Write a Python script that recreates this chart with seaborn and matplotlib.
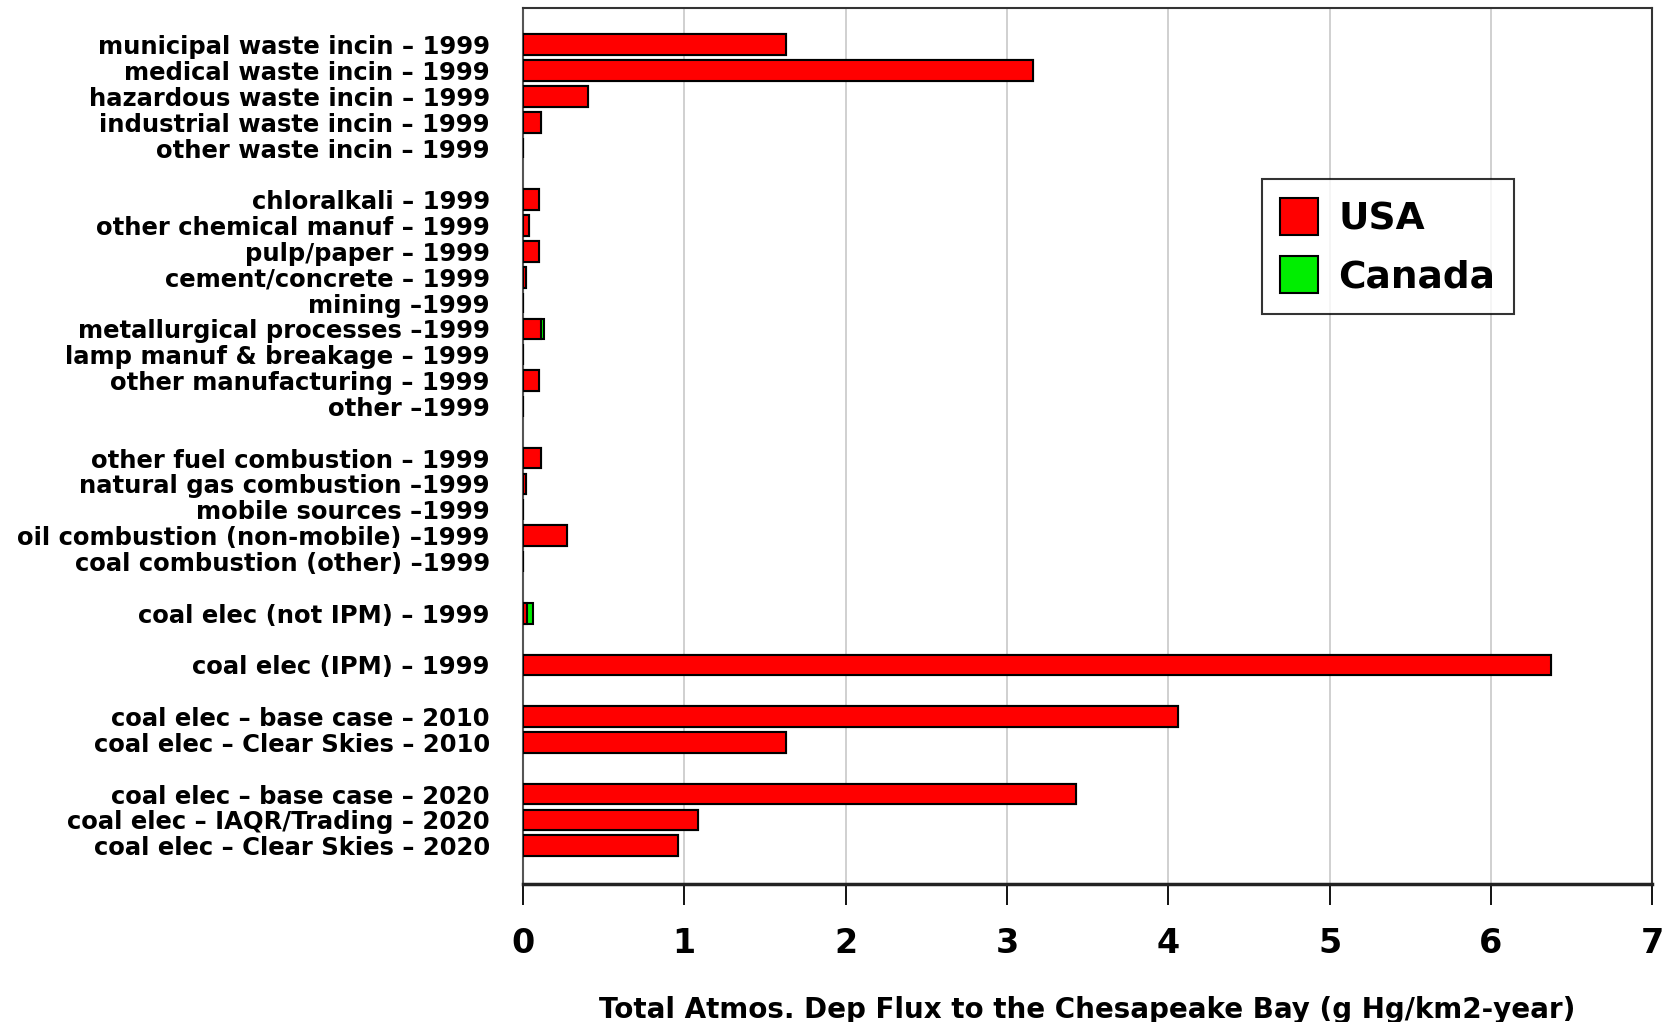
import matplotlib
matplotlib.use("Agg")
import matplotlib.pyplot as plt
import seaborn as sns
import pandas as pd
from matplotlib.patches import Patch

# ---- data ----
categories = [
    "municipal waste incin – 1999",
    "medical waste incin – 1999",
    "hazardous waste incin – 1999",
    "industrial waste incin – 1999",
    "other waste incin – 1999",
    "",
    "chloralkali – 1999",
    "other chemical manuf – 1999",
    "pulp/paper – 1999",
    "cement/concrete – 1999",
    "mining –1999",
    "metallurgical processes –1999",
    "lamp manuf & breakage – 1999",
    "other manufacturing – 1999",
    "other –1999",
    "",
    "other fuel combustion – 1999",
    "natural gas combustion –1999",
    "mobile sources –1999",
    "oil combustion (non-mobile) –1999",
    "coal combustion (other) –1999",
    "",
    "coal elec (not IPM) – 1999",
    "",
    "coal elec (IPM) – 1999",
    "",
    "coal elec – base case – 2010",
    "coal elec – Clear Skies – 2010",
    "",
    "coal elec – base case – 2020",
    "coal elec – IAQR/Trading – 2020",
    "coal elec – Clear Skies – 2020",
]
usa = [1.63, 3.16, 0.40, 0.11, 0.0, None,
       0.10, 0.04, 0.10, 0.02, 0.0, 0.11, 0.0, 0.10, 0.0, None,
       0.11, 0.02, 0.0, 0.27, 0.0, None,
       0.025, None,
       6.37, None,
       4.06, 1.63, None,
       3.43, 1.085, 0.96]
canada = [0.0, 0.0, 0.0, 0.0, 0.0, None,
          0.0, 0.0, 0.0, 0.0, 0.0, 0.02, 0.0, 0.0, 0.0, None,
          0.0, 0.0, 0.0, 0.0, 0.0, None,
          0.035, None,
          0.0, None,
          0.0, 0.0, None,
          0.0, 0.0, 0.0]
series_names = ["USA", "Canada"]
xticks = [0, 1, 2, 3, 4, 5, 6, 7]
xlabel = "Total Atmos. Dep Flux to the Chesapeake Bay (g Hg/km2-year)"

# ---- build frame ----
keys = [f"k{i}" for i in range(len(categories))]
rows = []
for k, u, c in zip(keys, usa, canada):
    if u is None:
        continue
    rows.append({"key": k, "usa": u, "total": u + c})
df = pd.DataFrame(rows)

sns.set_style("white")
plt.rcParams["font.family"] = ["DejaVu Sans"]
plt.rcParams["text.color"] = "black"
plt.rcParams["axes.labelcolor"] = "black"
plt.rcParams["xtick.color"] = "black"
plt.rcParams["ytick.color"] = "black"

fig = plt.figure(figsize=(16.73, 10.22), dpi=100)
ax = fig.add_axes([0.3126, 0.135, 0.675, 0.8567])

red = "#ff0000"
green = "#00ee00"

sns.barplot(data=df, y="key", x="total", order=keys, orient="h",
            color=green, saturation=1, width=0.8, edgecolor="black",
            linewidth=1.5, ax=ax, errorbar=None, zorder=3)
sns.barplot(data=df, y="key", x="usa", order=keys, orient="h",
            color=red, saturation=1, width=0.8, edgecolor="black",
            linewidth=1.5, ax=ax, errorbar=None, zorder=4)

ax.set_yticks(range(len(categories)))
ax.set_yticklabels(categories, fontsize=17.5, fontweight="bold")
ax.set_ylim(len(categories) - 1 + 1.48, -1.4)
ax.set_ylabel("")

ax.set_xlim(0, 7)
ax.set_xticks(xticks)
ax.set_xticklabels([str(t) for t in xticks], fontsize=24, fontweight="bold")
ax.set_xlabel(xlabel, fontsize=20, fontweight="bold", labelpad=26)

ax.grid(axis="x", color="#c8c8c8", linewidth=1.2, zorder=0)
ax.set_axisbelow(True)
ax.tick_params(axis="y", length=0, pad=24)
ax.tick_params(axis="x", direction="out", length=15, width=1.3, color="black",
               pad=16, bottom=True)

for side, sp in ax.spines.items():
    sp.set_visible(True)
    sp.set_color("#333333")
    sp.set_linewidth(1.5)
ax.spines["left"].set_color("#555555")
ax.spines["bottom"].set_linewidth(2.5)
ax.spines["bottom"].set_color("#222222")

handles = [Patch(facecolor=red, edgecolor="black", linewidth=1.5, label=series_names[0]),
           Patch(facecolor=green, edgecolor="black", linewidth=1.5, label=series_names[1])]
leg = ax.legend(handles=handles, loc="upper left", bbox_to_anchor=(0.654, 0.805),
                prop={"size": 27, "weight": "bold"}, frameon=True, fancybox=False,
                edgecolor="black", handlelength=1.0, handleheight=1.15,
                borderpad=0.5, labelspacing=0.5, handletextpad=0.55, borderaxespad=0)
leg.get_frame().set_linewidth(1.5)

fig.savefig("out.png", dpi=100)
